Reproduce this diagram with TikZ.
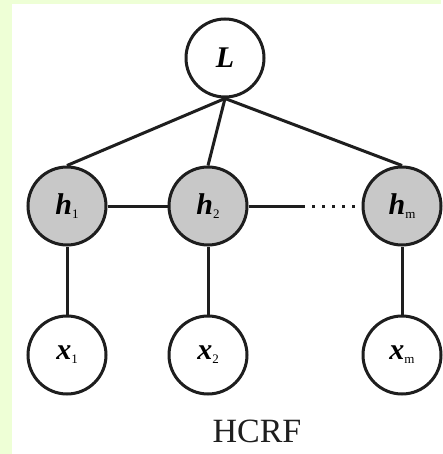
\documentclass[tikz,border=0pt]{standalone}
\usepackage{fontspec}
\setmainfont{Liberation Serif}
\usepackage{tikz}
\definecolor{pagegreen}{RGB}{238,255,214}
\definecolor{hidgray}{RGB}{200,200,200}
\definecolor{edgeblack}{RGB}{30,30,30}

% bold italic variable with a small upright index
\newcommand{\hvar}[2]{\textbf{\textit{#1}}\raisebox{-0.3ex}{\fontsize{13}{13}\selectfont #2}}

\begin{document}
\begin{tikzpicture}[x=1pt, y=-1pt,
  varnode/.style={circle, draw=edgeblack, line width=3pt, minimum size=78pt, inner sep=0pt, fill=white, font=\fontsize{30}{30}\selectfont},
  hidden/.style={varnode, fill=hidgray},
  link/.style={draw=edgeblack, line width=3pt}]
  % page background
  \fill[pagegreen] (0,0) rectangle (441,454);
  \fill[white] (12,4) rectangle (441,454);

  % label
  \node[varnode] (L) at (225,58) {\textbf{\textit{L}}};

  % hidden states
  \node[hidden] (h1) at (67,206) {\hvar{h}{1}};
  \node[hidden] (h2) at (208,206) {\hvar{h}{2}};
  \node[hidden] (hm) at (402,206) {\hvar{h}{m}};

  % observations
  \node[varnode] (x1) at (67,355) {\hvar{x}{1}};
  \node[varnode] (x2) at (208,355) {\hvar{x}{2}};
  \node[varnode] (xm) at (402,355) {\hvar{x}{m}};

  \node[font=\fontsize{34}{34}\selectfont, text=edgeblack] (title) at (257,431) {HCRF};

  % edges
  \draw[link] (L.south) -- (h1.north);
  \draw[link] (L.south) -- (h2.north);
  \draw[link] (L.south) -- (hm.north);
  \draw[link] (h1) -- (h2);
  \coordinate (gap) at (302,206);
  \draw[link] (h2) -- (gap);
  \draw[link, dash pattern=on 3pt off 7pt] (gap) -- (hm);
  \draw[link] (h1) -- (x1);
  \draw[link] (h2) -- (x2);
  \draw[link] (hm) -- (xm);
\end{tikzpicture}
\end{document}
